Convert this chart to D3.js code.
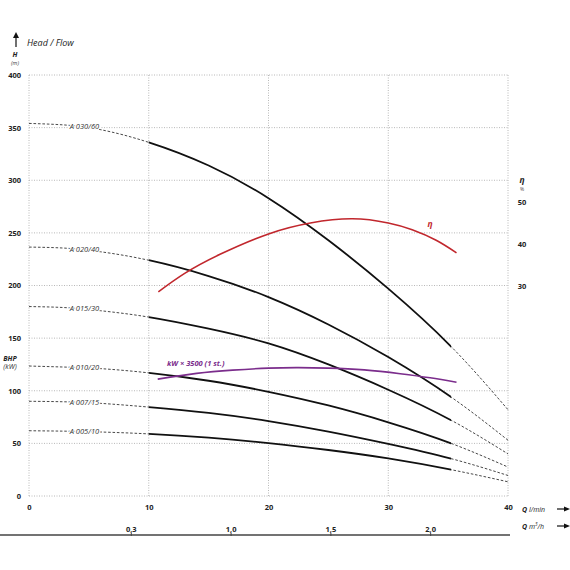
<!DOCTYPE html>
<html><head><meta charset="utf-8">
<script src="https://cdn.jsdelivr.net/npm/d3@7"></script>
<style>
html,body{margin:0;padding:0;background:#fff;}
svg text{font-family:"Open Sans","Noto Sans",sans-serif;}
</style></head>
<body><svg id="c" width="570" height="570"></svg>
<script>
// ---- data ----
const qTicks = [0, 10, 20, 30, 40];
const hTicks = [0, 50, 100, 150, 200, 250, 300, 350, 400];
const etaTicks = [30, 40, 50];
const m3hTicks = [0.5, 1.0, 1.5, 2.0];
const m3hLabels = ["0,3", "1,0", "1,5", "2,0"];
const pumpNames = ["A 030/60", "A 020/40", "A 015/30", "A 010/20", "A 007/15", "A 005/10"];
const flowQ = [0, 3, 6, 10, 15, 20, 25, 30, 35.25, 40];
const headA030 = [354, 352.5, 348, 336, 314, 283, 243, 197, 142, 82];
const headA020 = [236.5, 235.5, 232, 224, 209, 189, 163, 132, 94, 53];
const headA015 = [180, 179, 176, 170, 159, 145, 125, 101, 72, 40];
const headA010 = [123.5, 122.5, 121, 117, 109.5, 99, 86, 70, 50, 27.5];
const headA007 = [90, 89.5, 88, 84.5, 79, 71.2, 61.2, 49.5, 35.5, 19.5];
const headA005 = [62, 61.6, 60.8, 59, 55.4, 50.3, 43.7, 35.7, 25, 13.5];
const etaQ = [10.8, 13, 16, 20, 23.5, 27, 30, 32, 34, 35.7];
const etaVal = [28.6, 33.0, 37.6, 42.4, 45.0, 46.0, 45.0, 43.4, 40.9, 37.9];
const powQ = [10.75, 14, 17, 20, 22.5, 25, 28, 31, 33.5, 35.7];
const powVal = [111, 116.5, 119.6, 121.5, 122, 121.5, 119.8, 116.2, 112.3, 108]; // plotted in left-axis units (kW x 3500)
const solidFrom = 10, solidTo = 35.25, labelQ = 3.4;

// ---- scales ----
const svg = d3.select("#c");
const x = d3.scaleLinear().domain([0, 40]).range([29, 508]);
const y = d3.scaleLinear().domain([0, 400]).range([496, 75]);
const yEta = d3.scaleLinear().domain([30, 50]).range([286, 202]);
const xM3 = d3.scaleLinear().domain([0, 2.4]).range([31, 510]);

const grid = "#b8b8b8";
svg.append("g").selectAll("line").data(hTicks).join("line")
  .attr("x1", x(0)).attr("x2", x(40)).attr("y1", d => y(d)).attr("y2", d => y(d))
  .attr("stroke", grid).attr("stroke-width", 1).attr("stroke-dasharray", "1,1.5");
svg.append("g").selectAll("line").data(qTicks).join("line")
  .attr("y1", y(0)).attr("y2", y(400)).attr("x1", d => x(d)).attr("x2", d => x(d))
  .attr("stroke", grid).attr("stroke-width", 1).attr("stroke-dasharray", "1,1.5");

// left axis labels
const yAxis = d3.axisLeft(y).tickValues(hTicks).tickSize(0).tickPadding(0);
const gy = svg.append("g").attr("transform", "translate(21,0)").call(yAxis);
gy.select(".domain").remove();
gy.selectAll("text").attr("font-size", 7.5).attr("font-weight", "bold").attr("fill", "#222")
  .attr("font-family", "'Open Sans',sans-serif");

// bottom axis labels
const xAxis = d3.axisBottom(x).tickValues(qTicks).tickSize(0).tickPadding(0);
const gx = svg.append("g").attr("transform", "translate(0,505)").call(xAxis);
gx.select(".domain").remove();
gx.selectAll("text").attr("font-size", 7.5).attr("font-weight", "bold").attr("fill", "#222")
  .attr("font-family", "'Open Sans',sans-serif");

// m3/h axis
svg.append("line").attr("x1", 0).attr("x2", 510).attr("y1", 535).attr("y2", 535)
  .attr("stroke", "#444").attr("stroke-width", 1.5);
const m3Axis = d3.axisTop(xM3).tickValues(m3hTicks).tickFormat((d, i) => m3hLabels[i]).tickSize(3).tickPadding(1);
const gm = svg.append("g").attr("transform", "translate(0,536)").call(m3Axis);
gm.select(".domain").remove();
gm.selectAll("line").attr("stroke", "#444");
gm.selectAll("text").attr("font-size", 7.5).attr("font-weight", "bold").attr("fill", "#222")
  .attr("font-family", "'Open Sans',sans-serif");

// right eta axis
svg.append("g").selectAll("text").data(etaTicks).join("text")
  .attr("x", 522).attr("y", d => yEta(d) + 2.5).attr("text-anchor", "middle")
  .attr("font-size", 7.5).attr("font-weight", "bold").attr("fill", "#222").text(d => d);
svg.append("text").attr("x", 522).attr("y", 183).attr("text-anchor", "middle")
  .attr("font-size", 8.5).attr("font-weight", "bold").attr("font-style", "italic").attr("fill", "#222").text("η");
svg.append("text").attr("x", 522).attr("y", 191).attr("text-anchor", "middle")
  .attr("font-size", 5).attr("fill", "#444").text("%");

// titles
svg.append("line").attr("x1", 16).attr("x2", 16).attr("y1", 47).attr("y2", 37)
  .attr("stroke", "#111").attr("stroke-width", 1.2);
svg.append("path").attr("d", "M13,38 L16,32 L19,38 Z").attr("fill", "#111");
svg.append("text").attr("x", 27).attr("y", 46).attr("font-size", 9).attr("font-style", "italic")
  .attr("fill", "#222").text("Head / Flow");
svg.append("text").attr("x", 15).attr("y", 57).attr("text-anchor", "middle").attr("font-size", 7)
  .attr("font-weight", "bold").attr("font-style", "italic").attr("fill", "#222").text("H");
svg.append("text").attr("x", 15).attr("y", 65).attr("text-anchor", "middle").attr("font-size", 5.5)
  .attr("font-style", "italic").attr("fill", "#444").text("(m)");
svg.append("text").attr("x", 10).attr("y", 361).attr("text-anchor", "middle").attr("font-size", 7)
  .attr("font-weight", "bold").attr("font-style", "italic").attr("fill", "#222").text("BHP");
svg.append("text").attr("x", 10).attr("y", 369).attr("text-anchor", "middle").attr("font-size", 7)
  .attr("font-style", "italic").attr("fill", "#333").text("(kW)");

// Q labels + arrows
function qLabel(yy, unit, sup) {
  const t = svg.append("text").attr("x", 522).attr("y", yy + 2.5).attr("font-size", 7).attr("fill", "#222");
  t.append("tspan").attr("font-weight", "bold").attr("font-style", "italic").text("Q ");
  t.append("tspan").attr("font-style", "italic").text(unit);
  if (sup) {
    t.append("tspan").attr("font-style", "italic").attr("font-size", 4.5).attr("dy", -3).text("3");
    t.append("tspan").attr("font-style", "italic").attr("dy", 3).text("/h");
  }
  svg.append("line").attr("x1", 557).attr("x2", 565).attr("y1", yy).attr("y2", yy)
    .attr("stroke", "#111").attr("stroke-width", 1.2);
  svg.append("path").attr("d", `M564,${yy - 2.5} L570,${yy} L564,${yy + 2.5} Z`).attr("fill", "#111");
}
qLabel(509, "l/min", false);
qLabel(526, "m", true);

// clip paths
const defs = svg.append("defs");
defs.append("clipPath").attr("id", "solidClip").append("rect")
  .attr("x", x(solidFrom)).attr("y", 0).attr("width", x(solidTo) - x(solidFrom)).attr("height", 570);
const dc = defs.append("clipPath").attr("id", "dashClip");
dc.append("rect").attr("x", 0).attr("y", 0).attr("width", x(solidFrom)).attr("height", 570);
dc.append("rect").attr("x", x(solidTo)).attr("y", 0).attr("width", 570 - x(solidTo)).attr("height", 570);

const heads = [headA030, headA020, headA015, headA010, headA007, headA005];
const line = d3.line().x(d => x(d[0])).y(d => y(d[1])).curve(d3.curveNatural);

heads.forEach((h, i) => {
  const pts = flowQ.map((q, j) => [q, h[j]]);
  svg.append("path").attr("d", line(pts)).attr("fill", "none").attr("stroke", "#333")
    .attr("stroke-width", 0.9).attr("stroke-dasharray", "2.6,1.8").attr("clip-path", "url(#dashClip)");
  svg.append("path").attr("d", line(pts)).attr("fill", "none").attr("stroke", "#111")
    .attr("stroke-width", 1.8).attr("clip-path", "url(#solidClip)");
  const hy = d3.scaleLinear().domain(flowQ).range(h)(labelQ);
  svg.append("text").attr("x", x(labelQ)).attr("y", y(hy) + 3).attr("font-size", 7.5)
    .attr("font-style", "italic").attr("fill", "#333")
    .attr("stroke", "#fff").attr("stroke-width", 2.5).attr("paint-order", "stroke")
    .text(pumpNames[i]);
});

// efficiency
const etaLine = d3.line().x(d => x(d[0])).y(d => yEta(d[1])).curve(d3.curveNatural);
svg.append("path").attr("d", etaLine(etaQ.map((q, j) => [q, etaVal[j]])))
  .attr("fill", "none").attr("stroke", "#c1272d").attr("stroke-width", 1.6);
svg.append("text").attr("x", 430).attr("y", 227).attr("text-anchor", "middle").attr("font-size", 8.5)
  .attr("font-style", "italic").attr("font-weight", "bold").attr("fill", "#c1272d").text("η");

// power
svg.append("path").attr("d", line(powQ.map((q, j) => [q, powVal[j]])))
  .attr("fill", "none").attr("stroke", "#7b2d8c").attr("stroke-width", 1.6);
svg.append("text").attr("x", 167).attr("y", 366).attr("font-size", 7.5)
  .attr("font-style", "italic").attr("font-weight", "bold").attr("fill", "#7b2d8c").text("kW × 3500 (1 st.)");
</script></body></html>
